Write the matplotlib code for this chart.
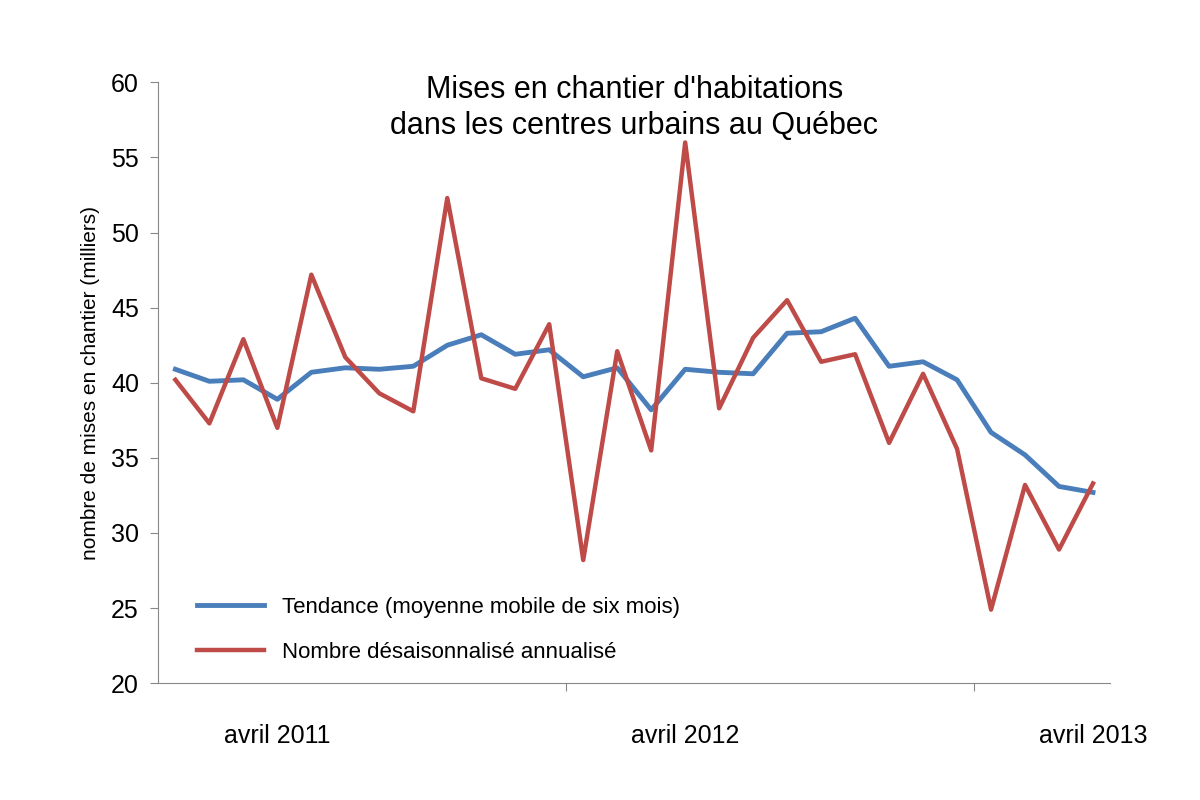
import matplotlib
matplotlib.use("Agg")
import matplotlib.pyplot as plt
import numpy as np

plt.rcParams["font.family"] = "Liberation Sans"

tendance = [40.9, 40.1, 40.2, 38.9, 40.7, 41.0, 40.9, 41.1, 42.5, 43.2, 41.9, 42.2, 40.4, 41.0,
            38.2, 40.9, 40.7, 40.6, 43.3, 43.4, 44.3, 41.1, 41.4, 40.2, 36.7, 35.2, 33.1, 32.7]
nombre = [40.2, 37.3, 42.9, 37.0, 47.2, 41.7, 39.3, 38.1, 52.3, 40.3, 39.6, 43.9, 28.2, 42.1,
          35.5, 56.0, 38.3, 43.0, 45.5, 41.4, 41.9, 36.0, 40.6, 35.6, 24.9, 33.2, 28.9, 33.3]
tick_labels = ["avril 2011", "avril 2012", "avril 2013"]
label_idx = [3, 15, 27]

fig = plt.figure(figsize=(12, 8), dpi=100)
ax = fig.add_axes([0.132, 0.146, 0.793, 0.751])
x = np.arange(len(nombre))
ax.plot(x, tendance, color="#4a7ebb", lw=3.5, label="Tendance (moyenne mobile de six mois)")
ax.plot(x, nombre, color="#be4b48", lw=3.2, label="Nombre désaisonnalisé annualisé")
ax.set_xlim(-0.5, len(nombre) - 0.5)
ax.set_ylim(20, 60)
ax.set_yticks(range(20, 61, 5))
ax.set_xticks([11.5, 23.5])
ax.set_xticklabels([])
ax.tick_params(axis="x", length=6, color="#888888", direction="out")
ax.tick_params(axis="y", length=6, color="#888888", labelsize=18, pad=8)
for i, l in zip(label_idx, tick_labels):
    ax.text(i, 16.5, l, ha="center", va="center", fontsize=18)
for s in ["top", "right"]:
    ax.spines[s].set_visible(False)
for s in ["left", "bottom"]:
    ax.spines[s].set_color("#888888")
ax.set_ylabel("nombre de mises en chantier (milliers)", fontsize=15, labelpad=8)
ax.text(13.5, 58.3, "Mises en chantier d'habitations\ndans les centres urbains au Québec",
        ha="center", va="center", fontsize=22, linespacing=1.25)
ax.legend(loc="lower left", bbox_to_anchor=(0.02, 0.0), frameon=False, fontsize=16,
          handlelength=3, labelspacing=1.1)
fig.savefig("out.png", facecolor="white")
